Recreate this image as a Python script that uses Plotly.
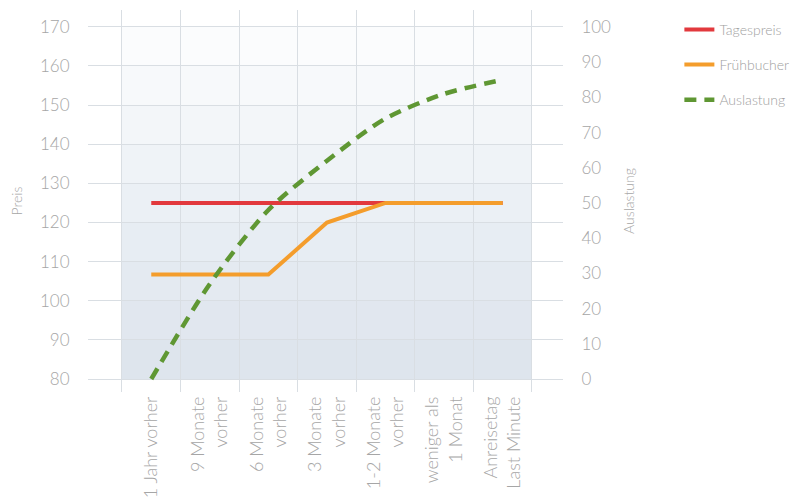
import plotly.graph_objects as go

# Booking windows (x categories)
zeitraum = [
    "1 Jahr vorher",
    "9 Monate<br>vorher",
    "6 Monate<br>vorher",
    "3 Monate<br>vorher",
    "1-2 Monate<br>vorher",
    "weniger als<br>1 Monat",
    "Anreisetag<br>Last Minute",
]

# Prices (left axis) and occupancy in percent (right axis)
tagespreis = [125, 125, 125, 125, 125, 125, 125]
fruehbucher = [106.7, 106.7, 106.7, 120, 125, 125, 125]
auslastung = [0, 27, 48, 62, 74, 81, 85]

preis_ticks = list(range(80, 171, 10))
auslastung_ticks = list(range(0, 101, 10))

TEXT = "#a6a6a6"
GRID = "#d9dee3"
FONT = "Lato"

fig = go.Figure()

fig.add_trace(go.Scatter(
    x=zeitraum, y=tagespreis, name="Tagespreis", mode="lines",
    line=dict(color="#e2393d", width=4), legendgroup="a",
))
fig.add_trace(go.Scatter(
    x=zeitraum, y=fruehbucher, name="Frühbucher", mode="lines",
    line=dict(color="#f49d2c", width=4), legendgroup="b",
))
fig.add_trace(go.Scatter(
    x=zeitraum, y=auslastung, name="Auslastung", mode="lines", yaxis="y2",
    line=dict(color="#5f9733", width=4.5, dash="12px,8px", shape="spline", smoothing=0.8),
    legendgroup="c",
))

# soft vertical gradient behind the category area
shapes = []
for top in range(170, 79, -10):
    shapes.append(dict(
        type="rect", xref="x", yref="y", layer="below",
        x0=-0.5, x1=len(zeitraum) - 0.5, y0=80, y1=top,
        fillcolor="rgba(170,195,216,0.042)", line=dict(width=0),
    ))

fig.update_layout(
    width=799, height=503,
    margin=dict(l=88, r=236, t=10, b=111, autoexpand=False),
    paper_bgcolor="white", plot_bgcolor="white",
    font=dict(family=FONT, color=TEXT, size=15, weight=300),
    shapes=shapes,
    showlegend=True,
    legend=dict(
        x=1.245, y=0.99, xanchor="left", yanchor="top",
        font=dict(size=14, color="#a0a0a0", family=FONT),
        tracegroupgap=14, bgcolor="rgba(0,0,0,0)",
    ),
    xaxis=dict(
        type="category", range=[-1.08, 7.03], tickson="boundaries",
        showgrid=True, gridcolor=GRID, gridwidth=1, automargin=False,
        tickangle=-90, ticks="", showline=False, zeroline=False,
        tickfont=dict(size=18, color=TEXT, family=FONT),
    ),
    yaxis=dict(
        range=[76.7, 174.3], tickvals=preis_ticks, automargin=False,
        showgrid=True, gridcolor=GRID, gridwidth=1, zeroline=False, showline=False,
        ticks="outside", ticklen=14, tickcolor="rgba(0,0,0,0)",
        tickfont=dict(size=17, color=TEXT, family=FONT),
        title=dict(text="Preis", font=dict(size=14, color=TEXT, family=FONT), standoff=14),
    ),
    yaxis2=dict(
        overlaying="y", side="right", range=[-3.69, 104.83], tickvals=auslastung_ticks,
        showgrid=False, zeroline=False, showline=False, automargin=False,
        ticks="outside", ticklen=14, tickcolor="rgba(0,0,0,0)",
        tickfont=dict(size=17, color=TEXT, family=FONT),
        title=dict(text="Auslastung", font=dict(size=14, color=TEXT, family=FONT), standoff=14),
    ),
)

fig.write_html("out.html")
